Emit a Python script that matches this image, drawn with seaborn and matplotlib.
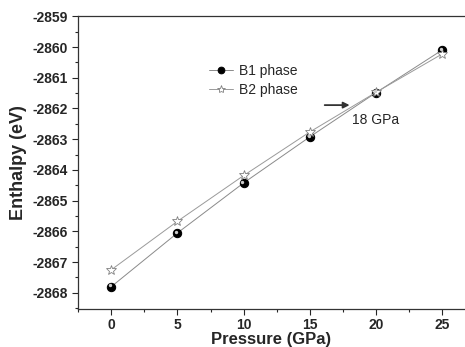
import numpy as np
import pandas as pd
import matplotlib
matplotlib.use('Agg')
import matplotlib.pyplot as plt
from matplotlib.ticker import MultipleLocator
import seaborn as sns

# data
pressure = [0, 5, 10, 15, 20, 25]
b1_enthalpy = [-2867.80, -2866.05, -2864.42, -2862.92, -2861.48, -2860.09]
b2_enthalpy = [-2867.25, -2865.67, -2864.18, -2862.76, -2861.47, -2860.22]
series_names = ['B1 phase', 'B2 phase']

sns.set_style('ticks')
plt.rcParams['font.family'] = ['Liberation Sans', 'DejaVu Sans']

df = pd.DataFrame({
    'Pressure': pressure * 2,
    'Enthalpy': b1_enthalpy + b2_enthalpy,
    'phase': [series_names[0]] * 6 + [series_names[1]] * 6,
})

fig = plt.figure(figsize=(4.65, 3.47), dpi=100)
ax = fig.add_axes([0.168, 0.11, 0.832, 0.843])

sns.lineplot(data=df[df.phase == 'B1 phase'], x='Pressure', y='Enthalpy', ax=ax,
             color='#8a8a8a', linewidth=0.7, marker='o', markersize=6,
             markerfacecolor='black', markeredgecolor='black', label='B1 phase')
sns.lineplot(data=df[df.phase == 'B2 phase'], x='Pressure', y='Enthalpy', ax=ax,
             color='#9a9a9a', linewidth=0.7, marker='*', markersize=7.5,
             markerfacecolor='white', markeredgecolor='#808080', markeredgewidth=0.6,
             label='B2 phase')

# little highlight on the spheres
ax.scatter(np.array(pressure) - 0.1, np.array(b1_enthalpy) + 0.04, s=2, color='#cccccc', zorder=5)

ax.set_xlim(-2.5, 26.7)
ax.set_ylim(-2868.52, -2859)
ax.xaxis.set_major_locator(MultipleLocator(5))
ax.xaxis.set_minor_locator(MultipleLocator(2.5))
ax.yaxis.set_major_locator(MultipleLocator(1))
ax.yaxis.set_minor_locator(MultipleLocator(0.5))
ax.tick_params(which='major', length=4, width=0.8, labelsize=10, direction='out')
ax.tick_params(which='minor', length=2.5, width=0.8, direction='out')
ax.tick_params(axis='x', which='major', pad=2.5)
for lab in ax.get_xticklabels() + ax.get_yticklabels():
    lab.set_fontweight('bold')
ax.yaxis.set_major_formatter(matplotlib.ticker.FuncFormatter(lambda v, p: f'{v:.0f}'))

for s in ['left', 'bottom', 'top']:
    ax.spines[s].set_linewidth(0.9)
    ax.spines[s].set_color('#333333')
ax.spines['right'].set_visible(False)

ax.set_xlabel('Pressure (GPa)', fontsize=12, fontweight='bold')
ax.xaxis.set_label_coords(0.5, -0.078)
ax.set_ylabel('Enthalpy (eV)', fontsize=13, fontweight='bold', labelpad=4)

ax.legend(loc='upper left', bbox_to_anchor=(0.307, 0.88), frameon=False, fontsize=10,
          handlelength=1.7, handletextpad=0.4, labelspacing=0.35, markerscale=0.8)

ax.annotate('', xy=(18.2, -2861.89), xytext=(15.9, -2861.89),
            arrowprops=dict(arrowstyle='-|>', color='#333333', lw=1.3, mutation_scale=9))
ax.text(18.2, -2862.38, '18 GPa', fontsize=10, va='center', ha='left')

fig.savefig('out.png', dpi=100)
